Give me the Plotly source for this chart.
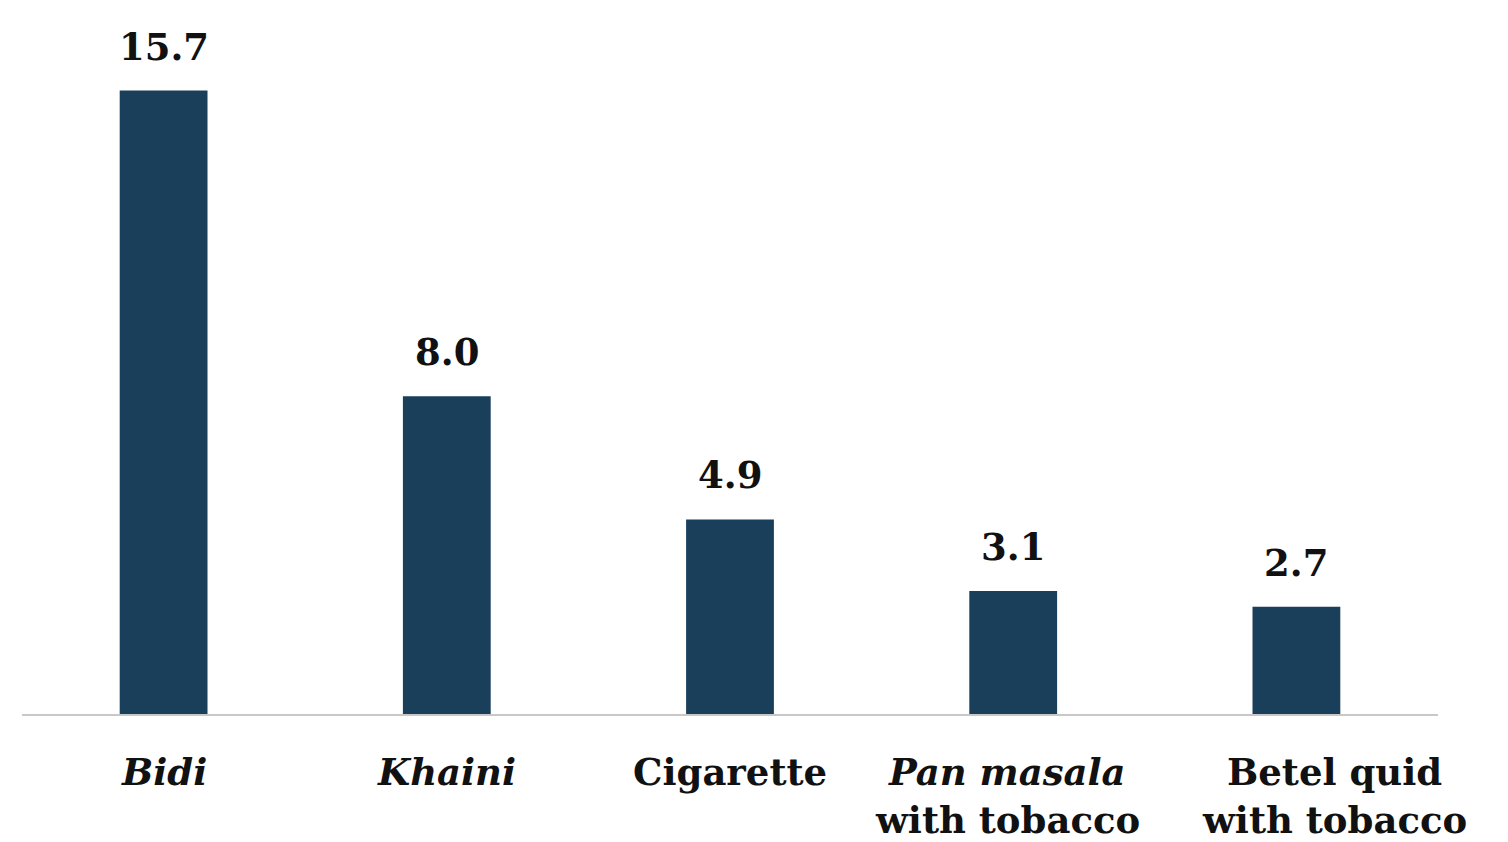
import plotly.graph_objects as go

categories = ["Bidi", "Khaini", "Cigarette", "Pan masala with tobacco", "Betel quid with tobacco"]
label_line1 = ["<i>Bidi</i>", "<i>Khaini</i>", "Cigarette", "<i>Pan masala</i>", "Betel quid"]
label_line2 = ["", "", "", "with tobacco", "with tobacco"]
values = [15.7, 8.0, 4.9, 3.1, 2.7]

FONT = "DejaVu Serif"
BAR_COLOR = "#1a3f5b"
TEXT_COLOR = "#111111"
LABEL_XSHIFT = [0, 0, 0, -6, 38]

fig = go.Figure()
fig.add_trace(go.Bar(
    x=categories, y=values,
    marker=dict(color=BAR_COLOR, line=dict(width=0)),
    hoverinfo="skip",
))

for c, v in zip(categories, values):
    fig.add_annotation(
        x=c, y=v, text=f"<b>{v:.1f}</b>", showarrow=False,
        yanchor="bottom", yshift=20,
        font=dict(family=FONT, size=37, color=TEXT_COLOR),
    )

for c, l1, l2, dx in zip(categories, label_line1, label_line2, LABEL_XSHIFT):
    fig.add_annotation(
        x=c, xref="x", y=0, yref="paper", text=f"<b>{l1}</b>", showarrow=False,
        yanchor="middle", yshift=-58, xshift=dx,
        font=dict(family=FONT, size=37, color=TEXT_COLOR),
    )
    if l2:
        fig.add_annotation(
            x=c, xref="x", y=0, yref="paper", text=f"<b>{l2}</b>", showarrow=False,
            yanchor="middle", yshift=-106, xshift=dx,
            font=dict(family=FONT, size=37, color=TEXT_COLOR),
        )

fig.update_layout(
    width=1500, height=834,
    margin=dict(l=14, r=70, t=31, b=128, autoexpand=False),
    paper_bgcolor="white", plot_bgcolor="white",
    bargap=0.69,
    showlegend=False,
    font=dict(family=FONT, color=TEXT_COLOR),
)
fig.update_xaxes(
    range=[-0.5, len(categories) - 0.5], autorange=False,
    showticklabels=False, automargin=False,
    showline=True, linecolor="#c8c8c8", linewidth=2,
    ticks="", showgrid=False, zeroline=False,
)
fig.update_yaxes(range=[0, 17], autorange=False, visible=False, showgrid=False,
                 zeroline=False, automargin=False)

fig.write_html("out.html")
